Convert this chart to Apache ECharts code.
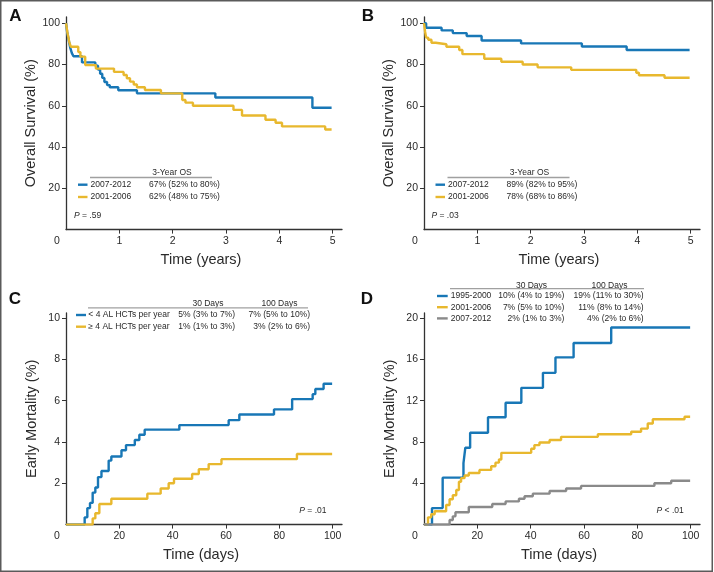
<!DOCTYPE html>
<html><head><meta charset="utf-8">
<script src="https://cdn.jsdelivr.net/npm/echarts@6/dist/echarts.min.js"></script>
<style>html,body{margin:0;padding:0;background:#fff}#c{width:714px;height:572px}</style>
</head><body><div id="c"></div>
<script>
const FONT = "'Liberation Sans', Arial, Helvetica, sans-serif";
const BLUE = '#1877b6', GOLD = '#e8b82e', GRAY = '#8a8a8a', AXIS = '#333', TXT = '#2a2a2a';

// ---- Panel A: overall survival by era (years, %)
const aBlue = [[0,100],[0.02,96],[0.05,92],[0.08,88],[0.11,85.5],[0.14,84],[0.3,81],[0.55,79.4],[0.6,77.5],[0.64,75.5],[0.68,73.5],[0.72,71.5],[0.77,70],[0.82,69],[0.98,67.5],[1.33,66],[2.8,64],[4.62,59],[4.98,59]];
const aGold = [[0,100],[0.03,95],[0.06,91],[0.09,88.6],[0.23,86],[0.27,83.8],[0.36,79.7],[0.56,78],[0.9,76.4],[1.08,74.9],[1.14,73.3],[1.2,71.7],[1.27,70.3],[1.33,69],[1.48,67.6],[1.78,66],[2.18,62.8],[2.24,61.5],[2.38,60],[3.14,58],[3.3,55.3],[3.74,53.2],[3.93,51.8],[4.05,50],[4.86,48.5],[4.98,48.5]];
// ---- Panel B
const bBlue = [[0,100],[0.04,97.8],[0.33,96.5],[0.54,95.2],[0.8,93.8],[1.08,91.6],[1.82,90.2],[2.96,88.7],[3.8,87],[4.98,87]];
const bGold = [[0,100],[0.02,96],[0.04,93],[0.08,92],[0.14,90.5],[0.22,89.8],[0.42,88.6],[0.66,87],[0.72,85],[1.13,82.8],[1.45,81.3],[1.85,80],[2.13,78.6],[2.76,77.4],[3.98,76],[4.03,74.8],[4.51,73.6],[4.98,73.6]];
// ---- Panel C: early mortality by center volume (days, %)
const cBlue = [[0,0],[7,0.35],[8,0.8],[9,1.05],[10,1.55],[11,1.8],[12,2.3],[13.3,2.6],[16,3.1],[17,3.3],[20.8,3.6],[22.5,3.85],[25.8,4.1],[27.5,4.35],[29.5,4.6],[42.5,4.82],[61,5.06],[65,5.33],[78,5.58],[84.8,6.08],[92.5,6.32],[93.5,6.57],[96.6,6.82],[99.8,6.82]];
const cGold = [[0,0],[10,0.3],[11,0.55],[12.5,1.0],[17,1.25],[30.5,1.5],[35.5,1.75],[38.5,2.0],[40.5,2.22],[47.3,2.45],[49.8,2.68],[53.5,2.93],[58.3,3.17],[86.6,3.42],[99.8,3.42]];
// ---- Panel D: early mortality by era
const dBlue = [[0,0],[3,1.6],[7,4.55],[14.8,5.95],[15.5,7.45],[17.3,8.9],[24,10.4],[30.6,11.8],[36.5,13.25],[44.6,14.7],[49.3,16.2],[56.1,17.6],[70.2,19.1],[99.8,19.1]];
const dGold = [[0,0],[1.5,0.7],[2.7,1.0],[4,1.3],[8.3,1.9],[9.6,2.45],[10.8,2.85],[12.1,3.35],[13.1,4.15],[13.9,4.5],[15.2,4.75],[16.8,5.0],[20.8,5.3],[25.2,5.65],[26.8,6.0],[28.1,6.3],[29,6.95],[40.2,7.35],[41.4,7.7],[43.3,7.95],[47.1,8.2],[51.4,8.5],[65.2,8.75],[77.7,9.0],[81.4,9.3],[83.9,9.8],[85.8,10.2],[97.7,10.45],[99.8,10.45]];
const dGray = [[0,0],[9.6,0.45],[10.8,0.8],[11.8,1.2],[16.8,1.7],[25.6,2.0],[30.6,2.25],[35.6,2.5],[37.7,2.75],[40.8,3.0],[47.1,3.25],[53.3,3.5],[58.9,3.75],[86.4,4.0],[92.7,4.25],[99.8,4.25]];

// ---- tick labels
const yearTicks = [0,1,2,3,4,5];
const dayTicks = [0,20,40,60,80,100];
const survTicks = [20,40,60,80,100];
const mortTicksC = [2,4,6,8,10];
const mortTicksD = [4,8,12,16,20];

// ---- legend tables
const osHeader = '3-Year OS';
const eraAB = ['2007-2012','2001-2006'];
const osA = ['67% (52% to 80%)','62% (48% to 75%)'];
const osB = ['89% (82% to 95%)','78% (68% to 86%)'];
const volLabels = ['< 4 AL HCTs per year','\u2265 4 AL HCTs per year'];
const volD30 = ['5% (3% to 7%)','1% (1% to 3%)'];
const volD100 = ['7% (5% to 10%)','3% (2% to 6%)'];
const eraD = ['1995-2000','2001-2006','2007-2012'];
const eraD30 = ['10% (4% to 19%)','7% (5% to 10%)','2% (1% to 3%)'];
const eraD100 = ['19% (11% to 30%)','11% (8% to 14%)','4% (2% to 6%)'];
const colHeaders = ['30 Days','100 Days'];
const pValues = ['P = .59','P = .03','P = .01','P < .01'];
const panelLetters = ['A','B','C','D'];

const grids = [
  {left:66, top:17, width:276, height:212.6},
  {left:424, top:17, width:276, height:212.6},
  {left:66, top:313, width:276, height:211.6},
  {left:424, top:313, width:276, height:211.6}
];

function xAx(i, ticks, max, name) {
  return {
    type:'value', gridIndex:i, min:0, max:max,
    name:name, nameLocation:'middle', nameGap:23,
    nameTextStyle:{fontFamily:FONT, fontSize:14.5, color:TXT, padding:[0,6,0,0]},
    axisLine:{show:true, lineStyle:{color:AXIS, width:1.3}},
    axisTick:{show:true, length:4, customValues:ticks.slice(1), lineStyle:{color:AXIS}},
    splitLine:{show:false},
    axisLabel:{customValues:ticks, margin:6, fontFamily:FONT, fontSize:10.5, color:TXT,
      formatter:v => v===0 ? '{o|0}' : String(v),
      rich:{o:{fontFamily:FONT, fontSize:10.5, color:TXT, padding:[0,18,0,0]}}}
  };
}
function yAx(i, ticks, max, name) {
  return {
    type:'value', gridIndex:i, min:0, max:max,
    name:name, nameLocation:'middle', nameGap:27,
    nameTextStyle:{fontFamily:FONT, fontSize:14.5, color:TXT},
    axisLine:{show:true, lineStyle:{color:AXIS, width:1.3}},
    axisTick:{show:true, length:4, customValues:ticks, lineStyle:{color:AXIS}},
    splitLine:{show:false},
    axisLabel:{customValues:ticks, margin:6, fontFamily:FONT, fontSize:10.5, color:TXT}
  };
}
function ser(i, data, color) {
  return {type:'line', xAxisIndex:i, yAxisIndex:i, data:data, step:'end', showSymbol:false,
    symbol:'none', lineStyle:{color:color, width:2.4}, itemStyle:{color:color}, silent:true, animation:false};
}

const G = [];
function txt(x, y, s, align, size, extra) {
  G.push(Object.assign({type:'text', x:x, y:y, silent:true,
    style:Object.assign({text:s, fontFamily:FONT, fontSize:size||8.5, fill:TXT, align:align||'left', verticalAlign:'middle'}, extra||{})}));
}
function ln(x1, y1, x2, y2, color, w) {
  G.push({type:'line', silent:true, shape:{x1:x1, y1:y1, x2:x2, y2:y2}, style:{stroke:color, lineWidth:w}});
}
function pTxt(x, y, s, align) {
  const rest = s.slice(1);
  txt(x, y, '{i|P}' + rest, align, 8.5, {rich:{i:{fontStyle:'italic', fontFamily:FONT, fontSize:8.5, fill:TXT}}});
}

// frame
G.push({type:'rect', silent:true, shape:{x:0.75, y:0.75, width:711.5, height:570.5}, style:{fill:'none', stroke:'#5a5a5a', lineWidth:1.5}});
// panel letters
[[15.5,16],[368,16],[15,299.5],[367,299.5]].forEach((p,k) => txt(p[0], p[1], panelLetters[k], 'center', 17, {fontWeight:'bold', fill:'#111'}));

// Legends A and B
[[0, osA], [357.5, osB]].forEach(([dx, vals], k) => {
  txt(172+dx, 173, osHeader, 'center', 8.5);
  ln(90+dx, 177.5, 212+dx, 177.5, '#a0a0a0', 1.3);
  [BLUE, GOLD].forEach((c, r) => {
    const y = 184.7 + r*12.3;
    ln(78+dx, y, 87.5+dx, y, c, 2.4);
    txt(90.5+dx, y, eraAB[r], 'left', 8.5);
    txt(149+dx, y, vals[r], 'left', 8.5);
  });
  pTxt(74+dx, 216, pValues[k], 'left');
});
// Legend C
txt(208, 303.3, colHeaders[0], 'center', 8.5);
txt(279.5, 303.3, colHeaders[1], 'center', 8.5);
ln(88, 307.8, 308, 307.8, '#a0a0a0', 1.3);
[BLUE, GOLD].forEach((c, r) => {
  const y = 315 + r*11.7;
  ln(76, y, 86, y, c, 2.4);
  txt(88.3, y, volLabels[r], 'left', 8.5);
  txt(235, y, volD30[r], 'right', 8.5);
  txt(310, y, volD100[r], 'right', 8.5);
});
pTxt(326.5, 511, pValues[2], 'right');
// Legend D
txt(531.5, 285.5, colHeaders[0], 'center', 8.5);
txt(609.5, 285.5, colHeaders[1], 'center', 8.5);
ln(450, 288.6, 644, 288.6, '#a0a0a0', 1.3);
[BLUE, GOLD, GRAY].forEach((c, r) => {
  const y = 296 + r*11.2;
  ln(437, y, 447.7, y, c, 2.4);
  txt(450.7, y, eraD[r], 'left', 8.5);
  txt(564.3, y, eraD30[r], 'right', 8.5);
  txt(643.7, y, eraD100[r], 'right', 8.5);
});
pTxt(683.7, 511, pValues[3], 'right');

const chart = echarts.init(document.getElementById('c'), null, {renderer:'canvas'});
chart.setOption({
  animation:false,
  backgroundColor:'#fff',
  grid:grids,
  xAxis:[xAx(0,yearTicks,5.175,'Time (years)'), xAx(1,yearTicks,5.175,'Time (years)'), xAx(2,dayTicks,103.5,'Time (days)'), xAx(3,dayTicks,103.5,'Time (days)')],
  yAxis:[yAx(0,survTicks,103,'Overall Survival (%)'), yAx(1,survTicks,103,'Overall Survival (%)'), yAx(2,mortTicksC,10.25,'Early Mortality (%)'), yAx(3,mortTicksD,20.5,'Early Mortality (%)')],
  series:[ser(0,aBlue,BLUE), ser(0,aGold,GOLD), ser(1,bBlue,BLUE), ser(1,bGold,GOLD),
          ser(2,cBlue,BLUE), ser(2,cGold,GOLD), ser(3,dBlue,BLUE), ser(3,dGold,GOLD), ser(3,dGray,GRAY)],
  graphic:{elements:G}
});
</script></body></html>
